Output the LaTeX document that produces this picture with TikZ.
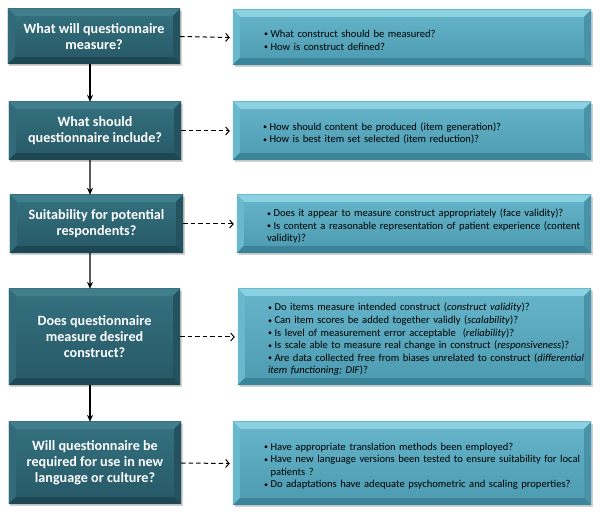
\documentclass[tikz,border=0pt]{standalone}
\usepackage{fontspec}
\setmainfont{Carlito}
\usetikzlibrary{calc,shadows,arrows.meta}
\definecolor{lqtop}{HTML}{34717F}
\definecolor{lqbot}{HTML}{275866}
\definecolor{lbT}{HTML}{417F8E}
\definecolor{lbL}{HTML}{326A79}
\definecolor{lbR}{HTML}{24525E}
\definecolor{lbB}{HTML}{1D4752}
\definecolor{ratop}{HTML}{66B5CA}
\definecolor{rabot}{HTML}{4C9AB0}
\definecolor{rbT}{HTML}{8CD1E2}
\definecolor{rbL}{HTML}{69B8CC}
\definecolor{rbR}{HTML}{4893A8}
\definecolor{rbB}{HTML}{3A8398}
\newcommand\bevel[6]{%
  \fill[#3] (#1.north west) -- (#1.north east) -- ($(#1.north east)+(-#2,-#2)$) -- ($(#1.north west)+(#2,-#2)$) -- cycle;
  \fill[#4] (#1.north west) -- ($(#1.north west)+(#2,-#2)$) -- ($(#1.south west)+(#2,#2)$) -- (#1.south west) -- cycle;
  \fill[#5] (#1.north east) -- ($(#1.north east)+(-#2,-#2)$) -- ($(#1.south east)+(-#2,#2)$) -- (#1.south east) -- cycle;
  \fill[#6] (#1.south west) -- ($(#1.south west)+(#2,#2)$) -- ($(#1.south east)+(-#2,#2)$) -- (#1.south east) -- cycle;
}
\newcommand\bitem{\par\hangindent=0.62em\hangafter=1\noindent\makebox[0.62em][l]{\raisebox{0.1ex}{\footnotesize\textbullet}}}
\hyphenpenalty=10000
\exhyphenpenalty=10000
\begin{document}
\begin{tikzpicture}[x=1bp,y=1bp,
  qbox/.style={rectangle, inner sep=0, top color=lqtop, bottom color=lqbot,
    drop shadow={opacity=0.35, shadow xshift=1.5bp, shadow yshift=-2bp}},
  qtext/.style={text=white, font=\bfseries\fontsize{14.2}{16}\selectfont, align=center, inner sep=0},
  abox/.style={rectangle, inner sep=0, top color=ratop, bottom color=rabot,
    drop shadow={opacity=0.35, shadow xshift=1.5bp, shadow yshift=-2bp}},
  atext/.style={anchor=west, text width=322bp, font=\fontsize{10.6}{12.6}\selectfont, align=left, inner sep=0},
  flow/.style={-{Stealth[length=7bp,width=6bp]}, line width=1.1bp},
  link/.style={dash pattern=on 4.5bp off 3bp, -{Straight Barb[length=3.5bp,width=8bp]}, line width=1bp}
]
\useasboundingbox[fill=white] (0,0) rectangle (600,515);

% left question boxes
\node[qbox, minimum width=172bp, minimum height=55bp] (q1) at (94,478.5) {};
\node[qbox, minimum width=172bp, minimum height=58bp] (q2) at (95,384) {};
\node[qbox, minimum width=173bp, minimum height=58bp] (q3) at (96.5,291) {};
\node[qbox, minimum width=171bp, minimum height=96bp] (q4) at (94.5,178) {};
\node[qbox, minimum width=172bp, minimum height=82bp] (q5) at (95,52) {};

% right answer boxes
\node[abox, minimum width=358bp, minimum height=55bp] (a1) at (412,477.5) {};
\node[abox, minimum width=358bp, minimum height=58bp] (a2) at (412,384) {};
\node[abox, minimum width=354bp, minimum height=58bp] (a3) at (414,291) {};
\node[abox, minimum width=353bp, minimum height=96bp] (a4) at (414.5,178) {};
\node[abox, minimum width=358bp, minimum height=83bp] (a5) at (412,51.5) {};

\foreach \n in {q1,q2,q3,q4,q5}{\bevel{\n}{7}{lbT}{lbL}{lbR}{lbB}}
\foreach \n in {a1,a2,a3,a4,a5}{\bevel{\n}{7}{rbT}{rbL}{rbR}{rbB}}

% question texts
\node[qtext] (tq1) at (q1) {What will questionnaire\\measure?};
\node[qtext] (tq2) at (q2) {What should\\questionnaire include?};
\node[qtext] (tq3) at (q3) {Suitability for potential\\respondents?};
\node[qtext] (tq4) at (q4) {Does questionnaire\\measure desired\\construct?};
\node[qtext] (tq5) at (q5) {Will questionnaire be\\required for use in new\\language or culture?};

% answer texts
\node[atext] (ta1) at ($(a1.west)+(31,0)$) {\bitem What construct should be measured?\bitem How is construct defined?};
\node[atext] (ta2) at ($(a2.west)+(30,0)$) {\bitem How should content be produced (item generation)?\bitem How is best item set selected (item reduction)?};
\node[atext] (ta3) at ($(a3.west)+(30,0)$) {\bitem Does it appear to measure construct appropriately (face validity)?\bitem Is content a reasonable representation of patient experience (content validity)?};
\node[atext] (ta4) at ($(a4.west)+(30,0)$) {\bitem Do items measure intended construct (\textit{construct validity})?\bitem Can item scores be added together validly (\textit{scalability})?\bitem Is level of measurement error acceptable\ \ (\textit{reliability})?\bitem Is scale able to measure real change in construct (\textit{responsiveness})?\bitem Are data collected free from biases unrelated to construct (\textit{differential item functioning; DIF})?};
\node[atext] (ta5) at ($(a5.west)+(31,0)$) {\bitem Have appropriate translation methods been employed?\bitem Have new language versions been tested to ensure suitability for local patients ?\bitem Do adaptations have adequate psychometric and scaling properties?};

% flow arrows
\draw[flow] ([xshift=-4bp]q1.south) -- ([xshift=-5bp]q2.north);
\draw[flow] ([xshift=-5bp]q2.south) -- ([xshift=-6.5bp]q3.north);
\draw[flow] ([xshift=-6.5bp]q3.south) -- ([xshift=-4.5bp]q4.north);
\draw[flow] ([xshift=-4.5bp]q4.south) -- ([xshift=-5bp]q5.north);

% dashed links
\draw[link] (q1.east) -- ($(a1.west)+(-3,0)$);
\draw[link] (q2.east) -- ($(a2.west)+(-3,0)$);
\draw[link] (q3.east) -- ($(a3.west)+(-3,0)$);
\draw[link] (q4.east) -- ($(a4.west)+(-3,0)$);
\draw[link] (q5.east) -- ($(a5.west)+(-3,0)$);
\end{tikzpicture}
\end{document}
